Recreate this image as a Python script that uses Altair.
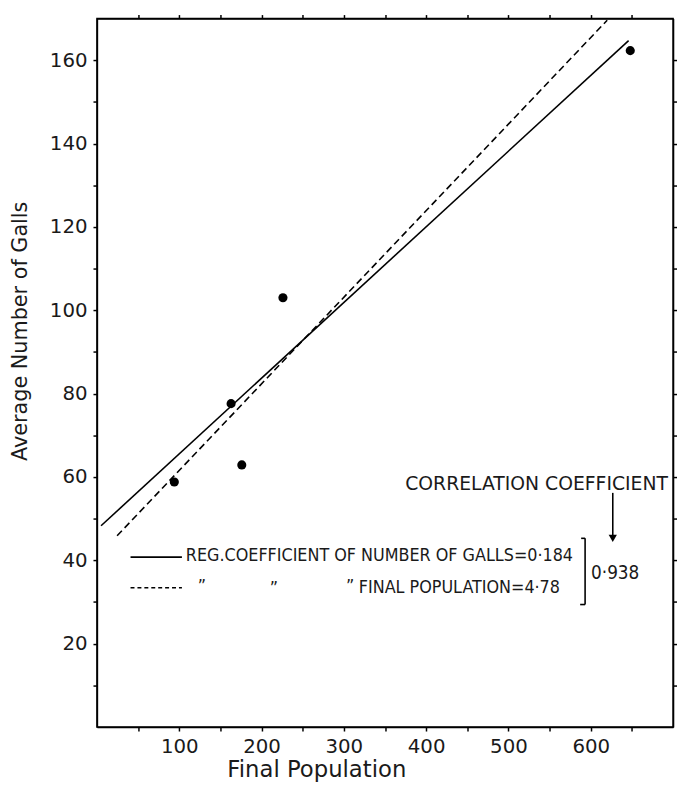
import altair as alt
import pandas as pd

# ---- data ----
final_population = [94, 163, 176, 226, 648]
average_galls = [58.8, 77.6, 62.9, 103.0, 162.3]

# regression lines (end points)
reg_galls_x = [5, 646]
reg_galls_y = [48.3, 164.7]
reg_pop_x = [24.5, 620]
reg_pop_y = [45.9, 169.6]

x_ticks = [50, 100, 150, 200, 250, 300, 350, 400, 450, 500, 550, 600, 650]
y_ticks = [10, 20, 30, 40, 50, 60, 70, 80, 90, 100, 110, 120, 130, 140, 150, 160]

x_title = "Final Population"
y_title = "Average Number of Galls"
legend_line1 = "REG.COEFFICIENT OF NUMBER OF GALLS=0·184"
legend_line2 = "FINAL POPULATION=4·78"
ditto = "”"
corr_label = "CORRELATION COEFFICIENT"
corr_value = "0·938"

pts = pd.DataFrame({"pop": final_population, "galls": average_galls})
line_solid = pd.DataFrame({"pop": reg_galls_x, "galls": reg_galls_y})
line_dash = pd.DataFrame({"pop": reg_pop_x, "galls": reg_pop_y})

xs = alt.Scale(domain=[0, 700], nice=False, zero=False)
ys = alt.Scale(domain=[0, 170], nice=False, zero=False)

FONT = "DejaVu Sans"
NARROW = "Liberation Sans Narrow, DejaVu Sans Condensed, sans-serif"
INK = "#1a1a1a"

points = alt.Chart(pts).mark_circle(size=85, color="black", opacity=1).encode(
    x=alt.X("pop:Q", scale=xs, axis=alt.Axis(
        values=x_ticks, labelExpr="datum.value % 100 == 0 ? datum.label : ''",
        title=x_title, titleX=222, titleY=43, titleBaseline="middle",
        titleAlign="center", labelPadding=6, titleFontSize=23)),
    y=alt.Y("galls:Q", scale=ys, axis=alt.Axis(
        values=y_ticks, labelExpr="datum.value % 20 == 0 ? datum.label : ''",
        title=y_title, titleAngle=270, titleX=-77, titleY=316,
        titleAlign="center", titleBaseline="middle", labelPadding=6)),
)

mirror = alt.Chart(pts).mark_point(opacity=0).encode(
    x=alt.X("pop:Q", scale=xs, axis=alt.Axis(orient="top", values=x_ticks, labels=False, title=None)),
    y=alt.Y("galls:Q", scale=ys, axis=alt.Axis(orient="right", values=y_ticks, labels=False, title=None)),
)

solid = alt.Chart(line_solid).mark_line(color="black", strokeWidth=1.6).encode(
    x=alt.X("pop:Q", scale=xs, axis=None),
    y=alt.Y("galls:Q", scale=ys, axis=None),
)
dashed = alt.Chart(line_dash).mark_line(color="black", strokeWidth=1.6, strokeDash=[7, 4]).encode(
    x=alt.X("pop:Q", scale=xs, axis=None),
    y=alt.Y("galls:Q", scale=ys, axis=None),
)

one = pd.DataFrame({"k": [0]})


def txt(s, x, y, font=NARROW, size=18, align="left"):
    return alt.Chart(one).mark_text(font=font, fontSize=size, align=align,
                                    baseline="middle", color=INK).encode(
        x=alt.value(x), y=alt.value(y), text=alt.value(s))


def hrule(x1, x2, y, dash=None):
    kw = dict(color="black", strokeWidth=1.6)
    if dash:
        kw["strokeDash"] = dash
    return alt.Chart(one).mark_rule(**kw).encode(
        x=alt.value(x1), x2=alt.value(x2), y=alt.value(y))


def vrule(x, y1, y2):
    return alt.Chart(one).mark_rule(color="black", strokeWidth=1.6).encode(
        x=alt.value(x), y=alt.value(y1), y2=alt.value(y2))


annotations = [
    hrule(34, 86, 545),
    txt(legend_line1, 90, 544),
    hrule(34, 86, 576, dash=[4, 3]),
    txt(ditto, 102, 575),
    txt(ditto, 175, 577),
    txt(ditto, 252, 575),
    txt(legend_line2, 265, 576),
    vrule(494, 526, 593),
    hrule(490, 494, 526),
    hrule(489, 494, 593),
    txt(corr_value, 500, 561, size=19),
    txt(corr_label, 312, 471, font=FONT, size=19),
    vrule(522, 480, 524),
    alt.Chart(one).mark_point(shape="triangle-down", filled=True, color="black",
                              size=70, opacity=1).encode(
        x=alt.value(522), y=alt.value(526)),
]

chart = alt.layer(points, mirror, solid, dashed, *annotations).resolve_axis(
    x="independent", y="independent"
).properties(
    width=583, height=717,
    autosize=alt.AutoSizeParams(type="none"),
    padding={"left": 90, "top": 6, "right": 4, "bottom": 58},
    background="white",
).configure_view(
    stroke="black", strokeWidth=1.5
).configure_axis(
    grid=False, domainColor="black", domainWidth=1.5,
    tickColor="black", tickWidth=1.5, tickSize=4,
    labelFont=FONT, labelFontSize=20, labelColor=INK,
    titleFont=FONT, titleFontSize=21, titleColor=INK, titleFontWeight="normal",
)

chart.save("out.html", embed_options={"renderer": "svg", "actions": False})
